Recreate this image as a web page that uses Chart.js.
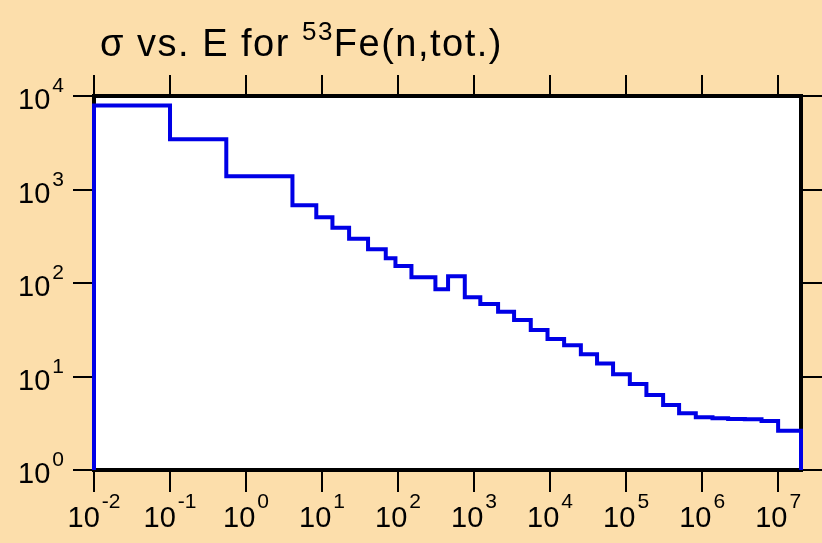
<!DOCTYPE html>
<html>
<head>
<meta charset="utf-8">
<script src="https://cdn.jsdelivr.net/npm/chart.js@4.4.0/dist/chart.umd.min.js"></script>
<style>
  html, body { margin: 0; padding: 0; background: #fcdeab; }
  canvas { display: block; }
</style>
</head>
<body>
<canvas id="myChart" width="822" height="543"></canvas>
<script>
// group boundaries (eV)
var energyEdges = [0.01, 0.1, 0.55, 4.08, 8.4, 13.7, 22.7, 40.3, 68.9, 92.4,
  150, 310, 455, 755, 1208, 2070, 3360, 5570, 9250, 15300,
  25400, 41500, 67400, 112000, 185000, 307000, 498000, 826000, 1.37e6, 2.2e6,
  3.65e6, 6.05e6, 1e7, 2e7];
// total cross section in each group (b)
var sigmaTot = [7900, 3440, 1383, 678, 505, 390, 298, 229, 184, 152,
  115, 85.7, 118, 70.3, 59.6, 49.3, 40.2, 31.4, 25.2, 21.6,
  17.3, 13.8, 10.6, 8.3, 6.35, 4.95, 4.04, 3.66, 3.57, 3.51,
  3.48, 3.34, 2.63];
// decade exponents for the tick labels
var xExponents = [-2, -1, 0, 1, 2, 3, 4, 5, 6, 7];
var yExponents = [0, 1, 2, 3, 4];

var bgColor = '#fcdeab';
var fontFam = '"Liberation Sans", Arial, sans-serif';

// histogram outline: up from the floor, one flat step per group, back down
var points = [{ x: energyEdges[0], y: 1 }];
sigmaTot.forEach(function (s, i) {
  points.push({ x: energyEdges[i], y: s });
});
points.push({ x: energyEdges[energyEdges.length - 1], y: sigmaTot[sigmaTot.length - 1] });
points.push({ x: energyEdges[energyEdges.length - 1], y: 1 });

// draws "10" with a raised exponent, anchored at x
function drawPow(ctx, exp, x, y, align, baseSize, supSize, rise) {
  var base = '10', sup = String(exp);
  ctx.font = baseSize + 'px ' + fontFam;
  var wb = ctx.measureText(base).width;
  ctx.font = supSize + 'px ' + fontFam;
  var ws = ctx.measureText(sup).width;
  var gap = 2;
  var total = wb + gap + ws;
  var start = align === 'center' ? x - total / 2 : x - total;
  ctx.textAlign = 'left';
  ctx.textBaseline = 'alphabetic';
  ctx.font = baseSize + 'px ' + fontFam;
  ctx.fillText(base, start, y);
  ctx.font = supSize + 'px ' + fontFam;
  ctx.fillText(sup, start + wb + gap, y - rise);
}

var framePlugin = {
  id: 'frame',
  beforeDraw(chart) {
    var ctx = chart.ctx, a = chart.chartArea;
    ctx.save();
    ctx.fillStyle = bgColor;
    ctx.fillRect(0, 0, chart.width, chart.height);
    ctx.fillStyle = '#ffffff';
    ctx.fillRect(a.left, a.top, a.right - a.left, a.bottom - a.top);
    ctx.restore();
  },
  beforeDatasetsDraw(chart) {
    var ctx = chart.ctx, a = chart.chartArea;
    var xs = chart.scales.x, ys = chart.scales.y;
    ctx.save();
    ctx.fillStyle = '#000';
    ctx.strokeStyle = '#000';

    // ticks outside the frame on all four sides
    ctx.lineWidth = 2;
    ctx.beginPath();
    xExponents.forEach(function (e) {
      var px = Math.round(xs.getPixelForValue(Math.pow(10, e)));
      ctx.moveTo(px, a.bottom); ctx.lineTo(px, a.bottom + 22);
      ctx.moveTo(px, a.top); ctx.lineTo(px, a.top - 21);
    });
    yExponents.forEach(function (e) {
      var py = Math.round(ys.getPixelForValue(Math.pow(10, e)));
      ctx.moveTo(a.left - 21, py); ctx.lineTo(a.left, py);
      ctx.moveTo(a.right, py); ctx.lineTo(a.right + 21, py);
    });
    ctx.stroke();

    ctx.lineWidth = 4;
    ctx.strokeRect(a.left, a.top, a.right - a.left, a.bottom - a.top);

    // tick labels
    xExponents.forEach(function (e) {
      var px = xs.getPixelForValue(Math.pow(10, e));
      drawPow(ctx, e, px, 527, 'center', 29, 21, 19);
    });
    yExponents.forEach(function (e) {
      var py = ys.getPixelForValue(Math.pow(10, e));
      drawPow(ctx, e, 64, py + 13, 'right', 29, 21, 17);
    });

    // title with a superscript mass number
    var tx = 100, ty = 56;
    ctx.textAlign = 'left';
    ctx.letterSpacing = '1.5px';
    ctx.font = '38px ' + fontFam;
    ctx.fillText('σ vs. E for ', tx, ty);
    tx += ctx.measureText('σ vs. E for ').width;
    ctx.font = '26px ' + fontFam;
    ctx.fillText('53', tx, ty - 16);
    tx += ctx.measureText('53').width;
    ctx.font = '38px ' + fontFam;
    ctx.fillText('Fe(n,tot.)', tx, ty);
    ctx.restore();
  }
};

var ctx = document.getElementById('myChart').getContext('2d');
var chart = new Chart(ctx, {
  type: 'line',
  data: {
    datasets: [{
      label: 'sigma',
      data: points,
      stepped: true,
      borderColor: '#0000e6',
      borderWidth: 4,
      borderJoinStyle: 'miter',
      pointRadius: 0,
      fill: false,
      clip: false
    }]
  },
  options: {
    responsive: false,
    animation: false,
    devicePixelRatio: 1,
    layout: { padding: { left: 94, right: 21, top: 96, bottom: 73 } },
    plugins: { legend: { display: false }, tooltip: { enabled: false } },
    scales: {
      x: { type: 'logarithmic', min: 0.01, max: 2e7, display: false },
      y: { type: 'logarithmic', min: 1, max: 1e4, display: false }
    }
  },
  plugins: [framePlugin]
});
</script>
</body>
</html>
